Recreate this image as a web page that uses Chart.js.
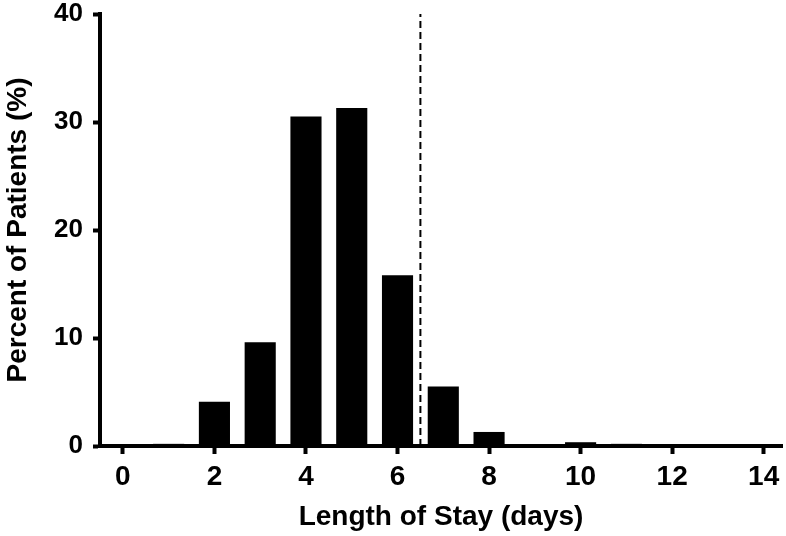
<!DOCTYPE html>
<html>
<head>
<meta charset="utf-8">
<script src="https://cdn.jsdelivr.net/npm/chart.js@4/dist/chart.umd.min.js"></script>
<style>
  html, body { margin: 0; padding: 0; background: #fff; }
  #wrap { width: 786px; height: 536px; }
</style>
</head>
<body>
<div id="wrap"><canvas id="myChart" width="786" height="536"></canvas></div>
<script>
// length of stay in days, one bar per day
const days = [0, 1, 2, 3, 4, 5, 6, 7, 8, 9, 10, 11, 12, 13, 14];
// percent of patients for each day
const percents = [0.1, 0.2, 4.1, 9.6, 30.5, 31.3, 15.8, 5.5, 1.3, 0.05, 0.35, 0.2, 0.05, 0.05, 0.05];
// dashed cut-off line
const cutoffDay = 6.5;
const xTicks = [0, 2, 4, 6, 8, 10, 12, 14];
const yTicks = [0, 10, 20, 30, 40];

const ctx = document.getElementById("myChart");

new Chart(ctx, {
  type: "bar",
  data: {
    datasets: [
      {
        label: "patients",
        data: days.map((d, i) => ({ x: d, y: percents[i] })),
        backgroundColor: "#000",
        borderWidth: 0,
        barPercentage: 0.68,
        categoryPercentage: 1,
      },
      {
        type: "line",
        label: "cutoff",
        data: [
          { x: cutoffDay, y: yTicks[0] },
          { x: cutoffDay, y: yTicks[yTicks.length - 1] },
        ],
        borderColor: "#000",
        borderWidth: 2,
        borderDash: [7, 4],
        pointRadius: 0,
      },
    ],
  },
  options: {
    responsive: false,
    animation: false,
    layout: { padding: { top: 14, right: 4, left: 0, bottom: 0 } },
    plugins: { legend: { display: false }, tooltip: { enabled: false } },
    scales: {
      x: {
        type: "linear",
        offset: false,
        min: -0.5,
        max: 14.4,
        afterBuildTicks: (scale) => {
          scale.ticks = xTicks.map((v) => ({ value: v }));
        },
        afterFit: (scale) => {
          scale.height = 90;
        },
        border: { display: true, color: "#000", width: 4 },
        grid: { offset: false, drawOnChartArea: false, drawTicks: true, tickLength: 8, tickWidth: 4, tickColor: "#000" },
        ticks: {
          color: "#000",
          padding: 6,
          maxRotation: 0,
          font: { family: "Liberation Sans", size: 28, weight: "bold" },
        },
        title: {
          display: true,
          text: "Length of Stay (days)",
          color: "#000",
          padding: { top: 0, bottom: 2 },
          font: { family: "Liberation Sans", size: 28, weight: "bold" },
        },
      },
      y: {
        min: 0,
        max: 40,
        afterBuildTicks: (scale) => {
          scale.ticks = yTicks.map((v) => ({ value: v }));
        },
        afterFit: (scale) => {
          scale.width = 100;
          // let the top label hang into the layout padding
          scale.paddingTop = 0;
          scale.paddingBottom = 0;
        },
        border: { display: true, color: "#000", width: 4 },
        grid: { drawOnChartArea: false, drawTicks: true, tickLength: 7, tickWidth: 4, tickColor: "#000" },
        ticks: {
          color: "#000",
          padding: 10,
          font: { family: "Liberation Sans", size: 26, weight: "bold" },
        },
        title: {
          display: true,
          text: "Percent of Patients (%)",
          color: "#000",
          padding: { top: 1, bottom: 0 },
          font: { family: "Liberation Sans", size: 28, weight: "bold" },
        },
      },
    },
  },
});
</script>
</body>
</html>
